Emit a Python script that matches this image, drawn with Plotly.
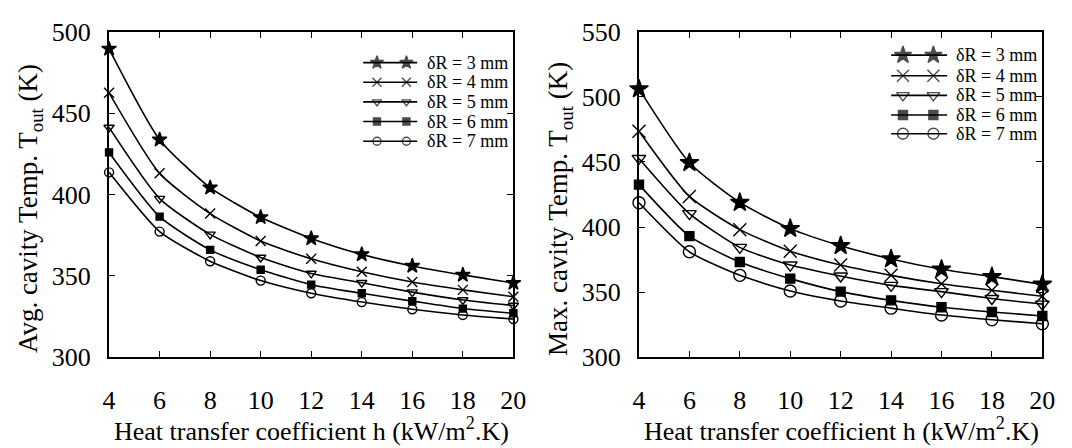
import plotly.graph_objects as go

W, H = 1072, 448

# Heat transfer coefficient h (kW/m^2.K)
h_values = [4, 6, 8, 10, 12, 14, 16, 18, 20]

# Average cavity temperature T_out (K) for each cavity gap dR
avg_3mm = [489.5, 433.7, 404.2, 386.0, 373.0, 363.2, 356.1, 350.6, 345.6]
avg_4mm = [462.5, 413.0, 388.3, 371.4, 360.5, 352.5, 346.2, 341.4, 337.2]
avg_5mm = [441.2, 397.5, 375.5, 361.3, 351.5, 345.8, 340.0, 335.2, 331.8]
avg_6mm = [425.9, 386.4, 366.0, 353.8, 344.6, 339.3, 334.5, 329.9, 327.0]
avg_7mm = [413.6, 377.2, 359.0, 347.1, 339.3, 333.9, 329.5, 326.0, 323.5]

# Maximum cavity temperature T_out (K) for each cavity gap dR
max_3mm = [506.1, 449.4, 418.9, 398.8, 385.6, 375.5, 367.6, 361.9, 356.0]
max_4mm = [473.6, 423.5, 398.0, 381.5, 370.8, 362.9, 356.4, 351.4, 346.8]
max_5mm = [452.7, 410.3, 384.4, 370.8, 362.4, 355.2, 350.4, 345.1, 340.8]
max_6mm = [432.6, 393.0, 373.1, 360.4, 350.4, 343.7, 338.4, 334.8, 331.7]
max_7mm = [418.7, 381.0, 362.9, 350.9, 343.2, 337.7, 332.4, 328.8, 325.7]

series_labels = ["δR = 3 mm", "δR = 4 mm", "δR = 5 mm", "δR = 6 mm", "δR = 7 mm"]
symbols = ["star", "x-thin-open", "triangle-down-open", "square", "circle-open"]

x_ticks = [4, 6, 8, 10, 12, 14, 16, 18, 20]
left_y_ticks = [300, 350, 400, 450, 500]
right_y_ticks = [300, 350, 400, 450, 500, 550]

FONT = "Liberation Serif"

fig = go.Figure()


def px_x(p):
    return p / W


def px_y(p):
    return 1 - p / H


panels = [
    dict(xa="x", ya="y", data=[avg_3mm, avg_4mm, avg_5mm, avg_6mm, avg_7mm],
         msize=[11, 10, 9, 7, 9]),
    dict(xa="x2", ya="y2", data=[max_3mm, max_4mm, max_5mm, max_6mm, max_7mm],
         msize=[14, 13, 12, 9, 12]),
]

for panel in panels:
    for vals, sym, ms, name in zip(panel["data"], symbols, panel["msize"], series_labels):
        fig.add_trace(go.Scatter(
            x=h_values, y=vals, name=name, xaxis=panel["xa"], yaxis=panel["ya"],
            mode="lines+markers",
            line=dict(color="black", width=1.6, shape="spline", smoothing=0.6),
            marker=dict(symbol=sym, size=ms, color="black",
                        line=dict(color="black", width=1.4)),
            showlegend=False, cliponaxis=False,
        ))

# Hand-drawn legends (two markers per sample line), in pixel coordinates on a full-page axis
legend_specs = [
    dict(x0=363, x1=418, m1=377, m2=407, tx=427, rows=[52, 73, 94, 115, 136],
         msize=[10, 9, 8, 7, 8], fsize=18),
    dict(x0=901, x1=958, m1=913, m2=944, tx=966, rows=[44, 66, 87, 108, 128],
         msize=[13, 12, 11, 9, 11], fsize=18),
]
for spec in legend_specs:
    for yy, sym, ms, name in zip(spec["rows"], symbols, spec["msize"], series_labels):
        fig.add_trace(go.Scatter(
            x=[spec["x0"], spec["m1"], spec["m2"], spec["x1"]], y=[yy] * 4,
            xaxis="x3", yaxis="y3", mode="lines+markers",
            line=dict(color="black", width=1.6),
            marker=dict(symbol=sym, size=[0, ms, ms, 0], color="black",
                        line=dict(color="black", width=1.4)),
            showlegend=False, hoverinfo="skip",
        ))
        fig.add_annotation(
            x=spec["tx"] / W, y=px_y(yy), xref="paper", yref="paper", text=name,
            showarrow=False, xanchor="left", yanchor="middle", borderpad=0,
            font=dict(family=FONT, size=spec["fsize"], color="black"),
        )

axis_common = dict(
    showline=True, linecolor="black", linewidth=2, mirror="ticks",
    ticks="inside", ticklen=6, tickwidth=1.2, tickcolor="black",
    showgrid=False, zeroline=False,
    tickfont=dict(family=FONT, size=26, color="black"),
)

fig.update_layout(
    width=W, height=H, margin=dict(l=0, r=0, t=0, b=0),
    paper_bgcolor="white", plot_bgcolor="rgba(0,0,0,0)",
    xaxis=dict(domain=[px_x(104), px_x(516)], range=[4, 20], tickvals=x_ticks,
               anchor="y", ticklabelstandoff=19, **axis_common),
    yaxis=dict(domain=[px_y(367), px_y(19)], range=[300, 500], tickvals=left_y_ticks,
               anchor="x", ticklabelstandoff=11, **axis_common),
    xaxis2=dict(domain=[px_x(644), px_x(1055)], range=[4, 20], tickvals=x_ticks,
                anchor="y2", ticklabelstandoff=19, **axis_common),
    yaxis2=dict(domain=[px_y(367), px_y(19)], range=[300, 550], tickvals=right_y_ticks,
                anchor="x2", ticklabelstandoff=11, **axis_common),
    xaxis3=dict(domain=[0, 1], range=[0, W], visible=False, anchor="y3"),
    yaxis3=dict(domain=[0, 1], range=[H, 0], visible=False, anchor="x3"),
    showlegend=False,
)

x_title_font = dict(family=FONT, size=26, color="black")
y_title_font = dict(family=FONT, size=27, color="black")
x_title = "Heat transfer coefficient h (kW/m<sup>2</sup>.K)"
fig.add_annotation(x=px_x(310), y=px_y(444), xref="paper", yref="paper", text=x_title,
                   showarrow=False, xanchor="center", yanchor="middle", font=x_title_font)
fig.add_annotation(x=px_x(850), y=px_y(444), xref="paper", yref="paper", text=x_title,
                   showarrow=False, xanchor="center", yanchor="middle", font=x_title_font)
fig.add_annotation(x=px_x(23), y=px_y(208), xref="paper", yref="paper",
                   text="Avg. cavity Temp. T<sub>out</sub> (K)", textangle=-90,
                   showarrow=False, xanchor="center", yanchor="middle", font=y_title_font)
fig.add_annotation(x=px_x(563), y=px_y(208), xref="paper", yref="paper",
                   text="Max. cavity Temp. T<sub>out</sub> (K)", textangle=-90,
                   showarrow=False, xanchor="center", yanchor="middle", font=y_title_font)

fig.write_html("out.html")
